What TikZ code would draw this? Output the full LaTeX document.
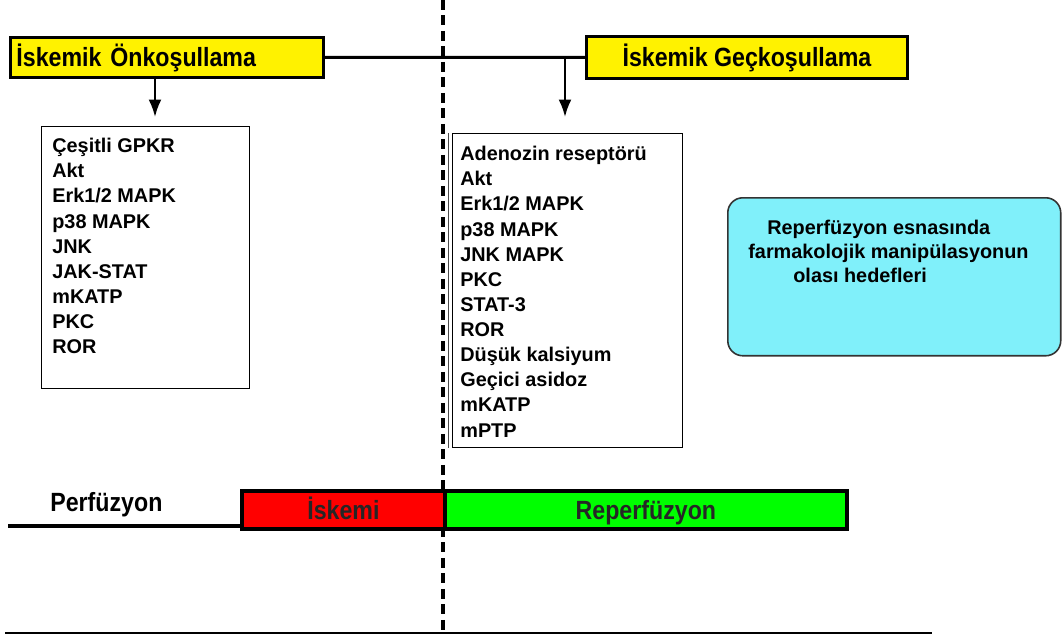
\documentclass[tikz,border=0pt]{standalone}
\usepackage{fontspec}
\setmainfont{Liberation Sans}
\newfontfamily\narrowfont[FakeStretch=0.88]{Liberation Sans}
\usetikzlibrary{arrows.meta}
\definecolor{paleaqua}{RGB}{128,240,250}
\tikzset{
yellowbox/.style={rectangle, draw=black, fill=yellow, line width=1.7pt, inner sep=0pt, anchor=north west, font=\narrowfont\bfseries\fontsize{15}{18}\selectfont},
listbox/.style={rectangle, draw=black, fill=white, line width=0.7pt, inner sep=0pt, anchor=north west},
listtext/.style={anchor=north west, inner sep=0pt, align=left, font=\bfseries\fontsize{11.3}{14.3}\selectfont},
phasebox/.style={rectangle, draw=black, line width=2.2pt, inner sep=0pt, anchor=north west, minimum height=0.76cm, text height=2.2ex, text depth=0.2ex, text=black!85, font=\narrowfont\bfseries\fontsize{15}{18}\selectfont},
arrowline/.style={line width=1.3pt, -{Latex[length=3.5mm, width=2.6mm]}},
joinline/.style={line width=1.7pt},
}
\begin{document}
\begin{tikzpicture}[x=0.02cm, y=-0.02cm]
    \useasboundingbox (0,0) rectangle (1062,635);
    % vertical marker at the start of reperfusion
    \coordinate (marktop) at (443,0);
    \coordinate (markbot) at (443,635);
    \draw[line width=2pt, dash pattern=on 0.2cm off 0.11cm] (marktop) -- (markbot);

    \node[yellowbox, minimum width=6.26cm, minimum height=0.8cm, text width=6.02cm, inner xsep=0.12cm, align=left] at (9,36) (onkbox) {İskemik Önkoşullama};
    \node[yellowbox, minimum width=6.42cm, minimum height=0.84cm] at (585,35) (geckbox) {İskemik Geçkoşullama};
    \draw[joinline] (onkbox.east) -- (geckbox.west);

    \node[listbox, minimum width=4.16cm, minimum height=5.24cm] at (41,126) (onklist) {};
    \node[listtext] at (52,138) (onkitems) {Çeşitli GPKR\\Akt\\Erk1/2 MAPK\\p38 MAPK\\JNK\\JAK-STAT\\mKATP\\PKC\\ROR};

    \node[listbox, minimum width=4.6cm, minimum height=6.28cm] at (452,133) (geclist) {};
    \draw[line width=0.7pt, black!70] ([xshift=-0.07cm]geclist.north west) -- ([xshift=-0.07cm]geclist.south west);
    \node[listtext] at (460,146) (gecitems) {Adenozin reseptörü\\Akt\\Erk1/2 MAPK\\p38 MAPK\\JNK MAPK\\PKC\\STAT-3\\ROR\\Düşük kalsiyum\\Geçici asidoz\\mKATP\\mPTP};

    \coordinate (onktail) at (155,77);
    \coordinate (gectail) at (565,57);
    \draw[arrowline, shorten >=0.18cm] (onktail) -- (onktail |- onklist.north);
    \draw[arrowline, shorten >=0.32cm] (gectail) -- (gectail |- geclist.north);

    \node[rectangle, rounded corners=0.3cm, draw=black!80, fill=paleaqua, line width=0.9pt, anchor=north west, minimum width=6.66cm, minimum height=3.16cm] at (727,197) (hedefbox) {};
    \node[listtext, font=\bfseries\fontsize{11.3}{13.6}\selectfont] at (748,220) (hedeftext) {\hspace*{0.38cm}Reperfüzyon esnasında\\farmakolojik manipülasyonun\\\hspace*{0.9cm}olası hedefleri};

    % time line
    \node[phasebox, fill=red, minimum width=4.06cm] at (240,489) (iskemi) {İskemi};
    \node[phasebox, fill=green, minimum width=8.04cm] at (443,489) (reperf) {Reperfüzyon};
    \node[anchor=west, inner sep=0pt, font=\narrowfont\bfseries\fontsize{15}{18}\selectfont] at (50,505) (perf) {Perfüzyon};
    \coordinate (perfstart) at (8,526);
    \draw[line width=2.2pt] (perfstart) -- (perfstart -| iskemi.west);

    \coordinate (baseleft) at (5,633);
    \coordinate (baseright) at (932,633);
    \draw[line width=1.1pt] (baseleft) -- (baseright);
\end{tikzpicture}
\end{document}
